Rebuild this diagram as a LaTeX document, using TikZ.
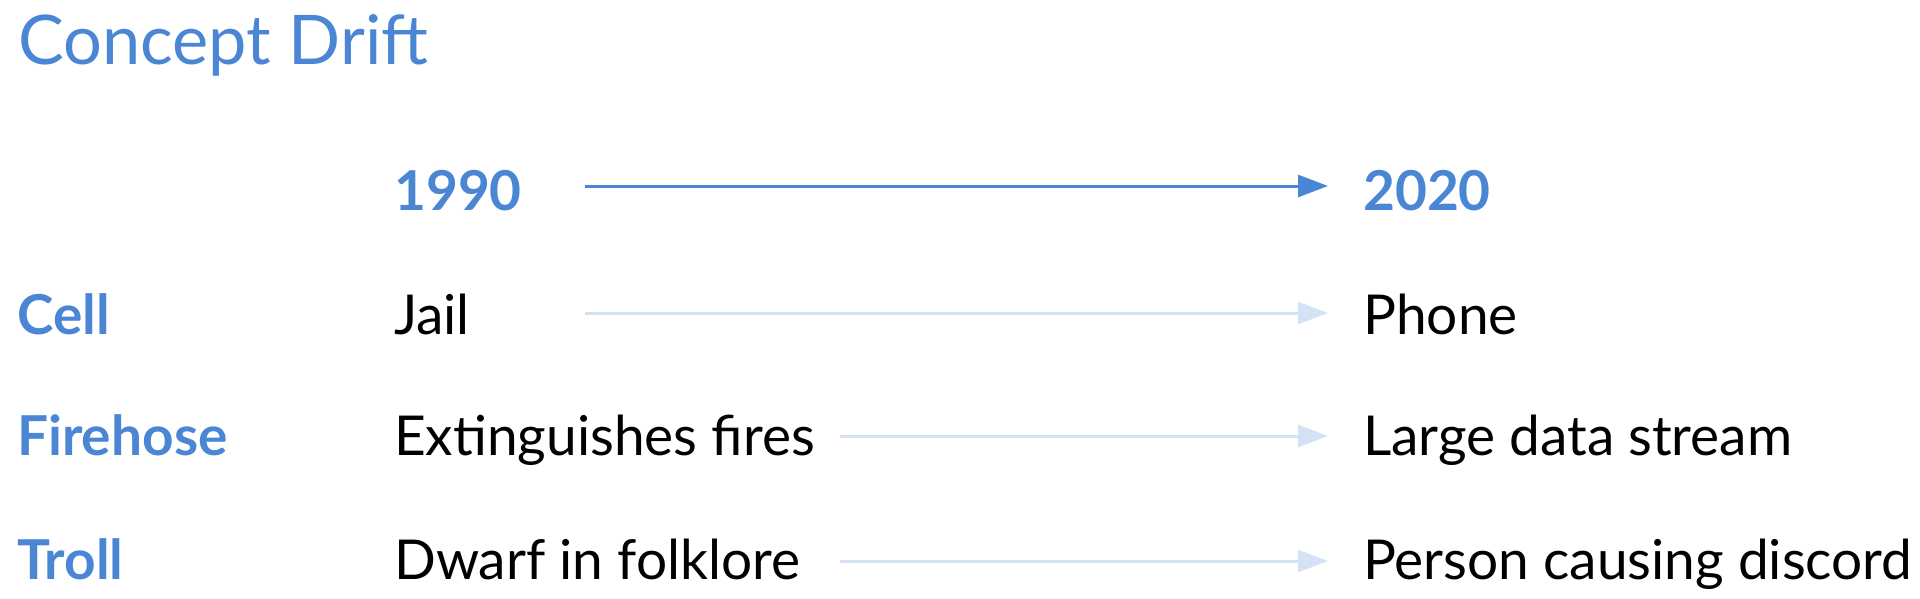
\documentclass[tikz,border=0pt]{standalone}
\usepackage{fontspec}
\setmainfont{Lato}
\usetikzlibrary{arrows.meta}
\definecolor{blu}{HTML}{4A86D4}
\definecolor{lblu}{HTML}{D3E3F5}
\begin{document}
\begin{tikzpicture}
[x=1pt,y=-1pt, t/.style={anchor=base west,inner sep=0pt,font=\fontsize{55}{60}\selectfont},
h/.style={t,text=blu,font=\fontsize{55}{60}\selectfont\bfseries},
a/.style={-{Triangle[length=30pt,width=22pt]},line width=3pt,shorten >=35pt}]
\useasboundingbox (0,0) rectangle (1920,599);
\node(title) at (18,65)[anchor=base west,inner sep=0pt,text=blu,font=\fontsize{68.5}{74}\selectfont]{Concept Drift};
\node(old) at (394,211)[h]{1990};\node(new) at (1363,211)[h]{2020};
\node(c) at (17,334)[h]{Cell};\node(c1) at (394,334)[t]{Jail};\node(c2) at (1363,334)[t]{Phone};
\node(f) at (17,455)[h]{Firehose};\node(f1) at (394,455)[t]{Extinguishes fires};\node(f2) at (1363,455)[t]{Large data stream};
\node(r) at (17,579)[h]{Troll};\node(r1) at (394,579)[t]{Dwarf in folklore};\node(r2) at (1363,579)[t]{Person causing discord};
\coordinate(s0) at (585,186);\coordinate(s1) at (585,313);\coordinate(s2) at (840,436);\coordinate(s3) at (840,561);
\draw[a,blu](s0)--(s0-|new.west);\draw[a,lblu](s1)--(s1-|c2.west);
\draw[a,lblu](s2)--(s2-|f2.west);\draw[a,lblu](s3)--(s3-|r2.west);
\end{tikzpicture}
\end{document}
